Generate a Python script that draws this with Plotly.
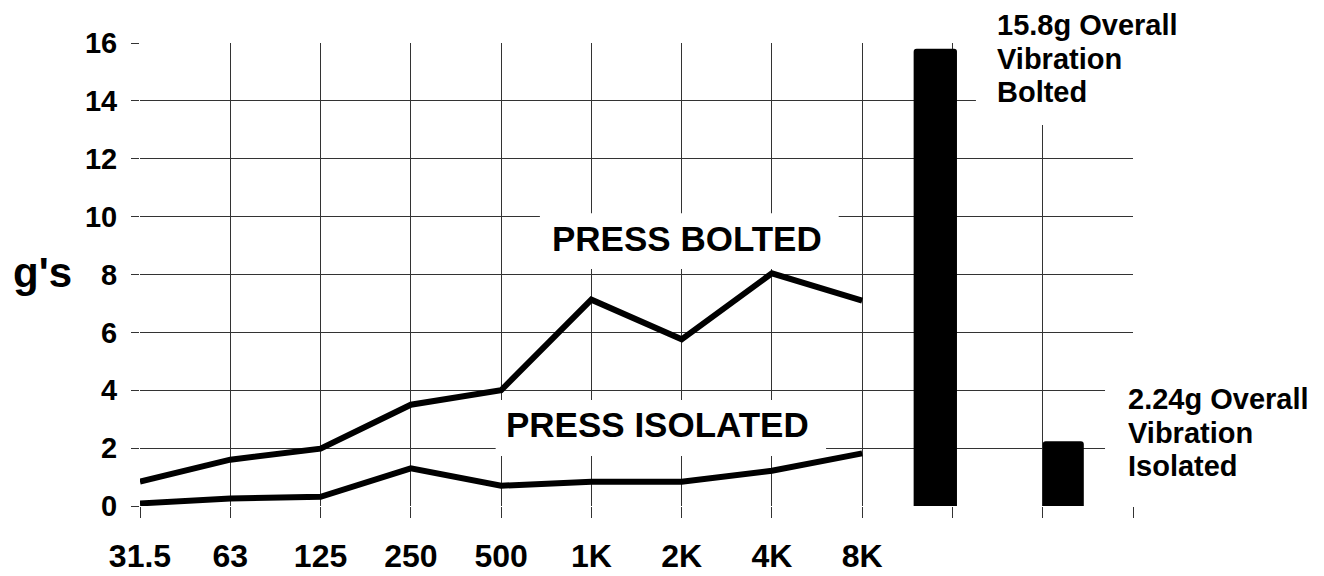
import plotly.graph_objects as go

# ---- data ----
freq_labels = ["31.5", "63", "125", "250", "500", "1K", "2K", "4K", "8K"]
press_bolted = [0.84, 1.6, 1.98, 3.5, 4.0, 7.13, 5.76, 8.04, 7.1]
press_isolated = [0.09, 0.26, 0.32, 1.3, 0.7, 0.84, 0.84, 1.22, 1.82]
bolted_note = ["15.8g Overall", "Vibration", "Bolted"]
isolated_note = ["2.24g Overall", "Vibration", "Isolated"]
overall_values = [15.8, 2.24]
y_ticks = [0, 2, 4, 6, 8, 10, 12, 14, 16]

FONT = "Liberation Sans, Arial, Helvetica, sans-serif"
n_slots = len(freq_labels) + 3  # 3 extra slots on right (bars area)
slot_idx = list(range(n_slots))
line_x = list(range(len(freq_labels)))
bar_x = [len(freq_labels), len(freq_labels) + 1]

# figure geometry (page has an 8px body margin)
W, H = 1316, 568
ML, MR, MT, MB = 132, 191, 35, 70
PAGE_OFF = 8
plot_top = PAGE_OFF + MT
plot_bot = PAGE_OFF + H - MB


def py_to_paper(py):
    return (plot_bot - py) / (plot_bot - plot_top)


fig = go.Figure()

fig.add_trace(go.Scatter(x=line_x, y=press_bolted, mode="lines",
                         line=dict(color="black", width=6), hoverinfo="skip"))
fig.add_trace(go.Scatter(x=line_x, y=press_isolated, mode="lines",
                         line=dict(color="black", width=6), hoverinfo="skip"))
fig.add_trace(go.Bar(x=bar_x, y=overall_values, offset=[-0.43, 0.0], width=[0.48, 0.455],
                     marker=dict(color="black", line=dict(width=0), cornerradius=3),
                     hoverinfo="skip"))

# white occlusion boxes behind text (above gridlines, below traces)
boxes = [
    (4.43, 7.74, 8.19, 10.12),
    (3.94, 7.60, 1.73, 3.66),
    (9.26, 12.0, 13.17, 17.0),
    (10.69, 12.0, 0.2, 4.94),
]
for x0, x1, y0, y1 in boxes:
    fig.add_shape(type="rect", xref="x", yref="y", x0=x0, x1=x1, y0=y0, y1=y1,
                  fillcolor="white", line=dict(width=0), layer="between")

fig.add_annotation(x=6.06, y=9.26, xref="x", yref="y", text="PRESS BOLTED", showarrow=False,
                   font=dict(family=FONT, size=35, color="black", weight="bold"))
fig.add_annotation(x=5.73, y=2.8, xref="x", yref="y", text="PRESS ISOLATED", showarrow=False,
                   font=dict(family=FONT, size=35, color="black", weight="bold"))

for i, t in enumerate(bolted_note):
    fig.add_annotation(x=9.47, y=py_to_paper(25 + 33.5 * i), xref="x", yref="paper", text=t,
                       showarrow=False, xanchor="left", yanchor="middle", align="left",
                       font=dict(family=FONT, size=29, color="black", weight="bold"))
for i, t in enumerate(isolated_note):
    fig.add_annotation(x=10.92, y=py_to_paper(399 + 33.5 * i), xref="x", yref="paper", text=t,
                       showarrow=False, xanchor="left", yanchor="middle", align="left",
                       font=dict(family=FONT, size=29, color="black", weight="bold"))

fig.add_annotation(x=(42 - PAGE_OFF - ML) / (W - ML - MR), y=py_to_paper(272), xref="paper",
                   yref="paper", xanchor="center", yanchor="middle", text="g's", showarrow=False,
                   font=dict(family=FONT, size=42, color="black", weight="bold"))

fig.update_layout(
    width=W, height=H,
    margin=dict(l=ML, r=MR, t=MT, b=MB, autoexpand=False),
    paper_bgcolor="white", plot_bgcolor="white",
    showlegend=False,
    font=dict(family=FONT, color="black"),
)

fig.update_xaxes(
    range=[0, n_slots - 1], tickmode="array", tickvals=slot_idx,
    ticktext=freq_labels + [""] * 3,
    showgrid=True, gridcolor="#333", gridwidth=1,
    ticks="outside", ticklen=11, tickcolor="#333", tickwidth=1,
    tickfont=dict(family=FONT, size=32, color="black", weight="bold"),
    ticklabelstandoff=11,
    zeroline=False, showline=False,
)
fig.update_yaxes(
    range=[0, 16], tickmode="array", tickvals=y_ticks,
    showgrid=True, gridcolor="#333", gridwidth=1,
    ticks="outside", ticklen=8, tickcolor="#333", tickwidth=1,
    tickfont=dict(family=FONT, size=29, color="black", weight="bold"),
    ticklabelstandoff=8,
    zeroline=False, showline=False,
)

fig.write_html("out.html")
